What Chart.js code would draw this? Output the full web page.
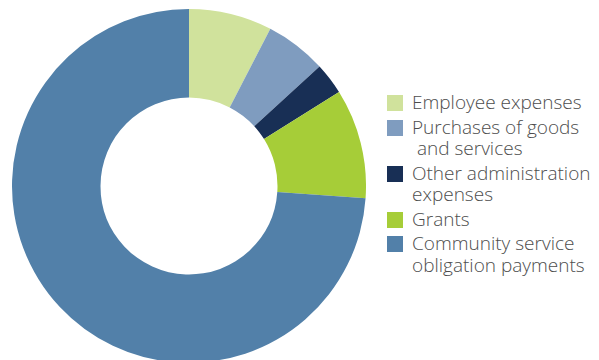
<!DOCTYPE html>
<html>
<head>
<meta charset="utf-8">
<script src="https://cdn.jsdelivr.net/npm/chart.js@4/dist/chart.umd.min.js"></script>
<style>
  html, body { margin: 0; padding: 0; background: #fff; overflow: hidden; width: 599px; height: 360px; }
  #wrap { position: absolute; left: 12px; top: 9px; width: 354px; height: 354px; }
  #legend { position: absolute; left: 387px; top: 92px; font-family: "Open Sans", "Lato", sans-serif; font-weight: 300; font-size: 19px; color: #4d4d4d; }
  .item { position: relative; padding-left: 25px; line-height: 21.5px; margin-bottom: 3px; white-space: pre; }
  .box { position: absolute; left: 0; top: 3px; width: 16px; height: 16px; }
</style>
</head>
<body>
<div id="wrap"><canvas id="chart" width="354" height="354"></canvas></div>
<div id="legend"></div>
<script>
// gastos por tipo (%)
var categorias = ["Employee expenses", "Purchases of goods\n and services", "Other administration\nexpenses", "Grants", "Community service\nobligation payments"];
var valores = [7.6, 5.6, 2.9, 10.0, 73.9];
var colores = ["#d0e29c", "#7f9cbf", "#182f55", "#a6cd38", "#5280a9"];

new Chart(document.getElementById("chart"), {
  type: "doughnut",
  data: {
    labels: categorias,
    datasets: [{ data: valores, backgroundColor: colores, borderWidth: 0 }]
  },
  options: {
    responsive: false,
    animation: false,
    cutout: "50%",
    layout: { padding: 0 },
    plugins: { legend: { display: false }, tooltip: { enabled: false } }
  }
});

// leyenda en HTML
var legend = document.getElementById("legend");
categorias.forEach(function(c, i){
  var div = document.createElement("div");
  div.className = "item";
  var box = document.createElement("span");
  box.className = "box";
  box.style.background = colores[i];
  div.appendChild(box);
  div.appendChild(document.createTextNode(c));
  legend.appendChild(div);
});
</script>
</body>
</html>
